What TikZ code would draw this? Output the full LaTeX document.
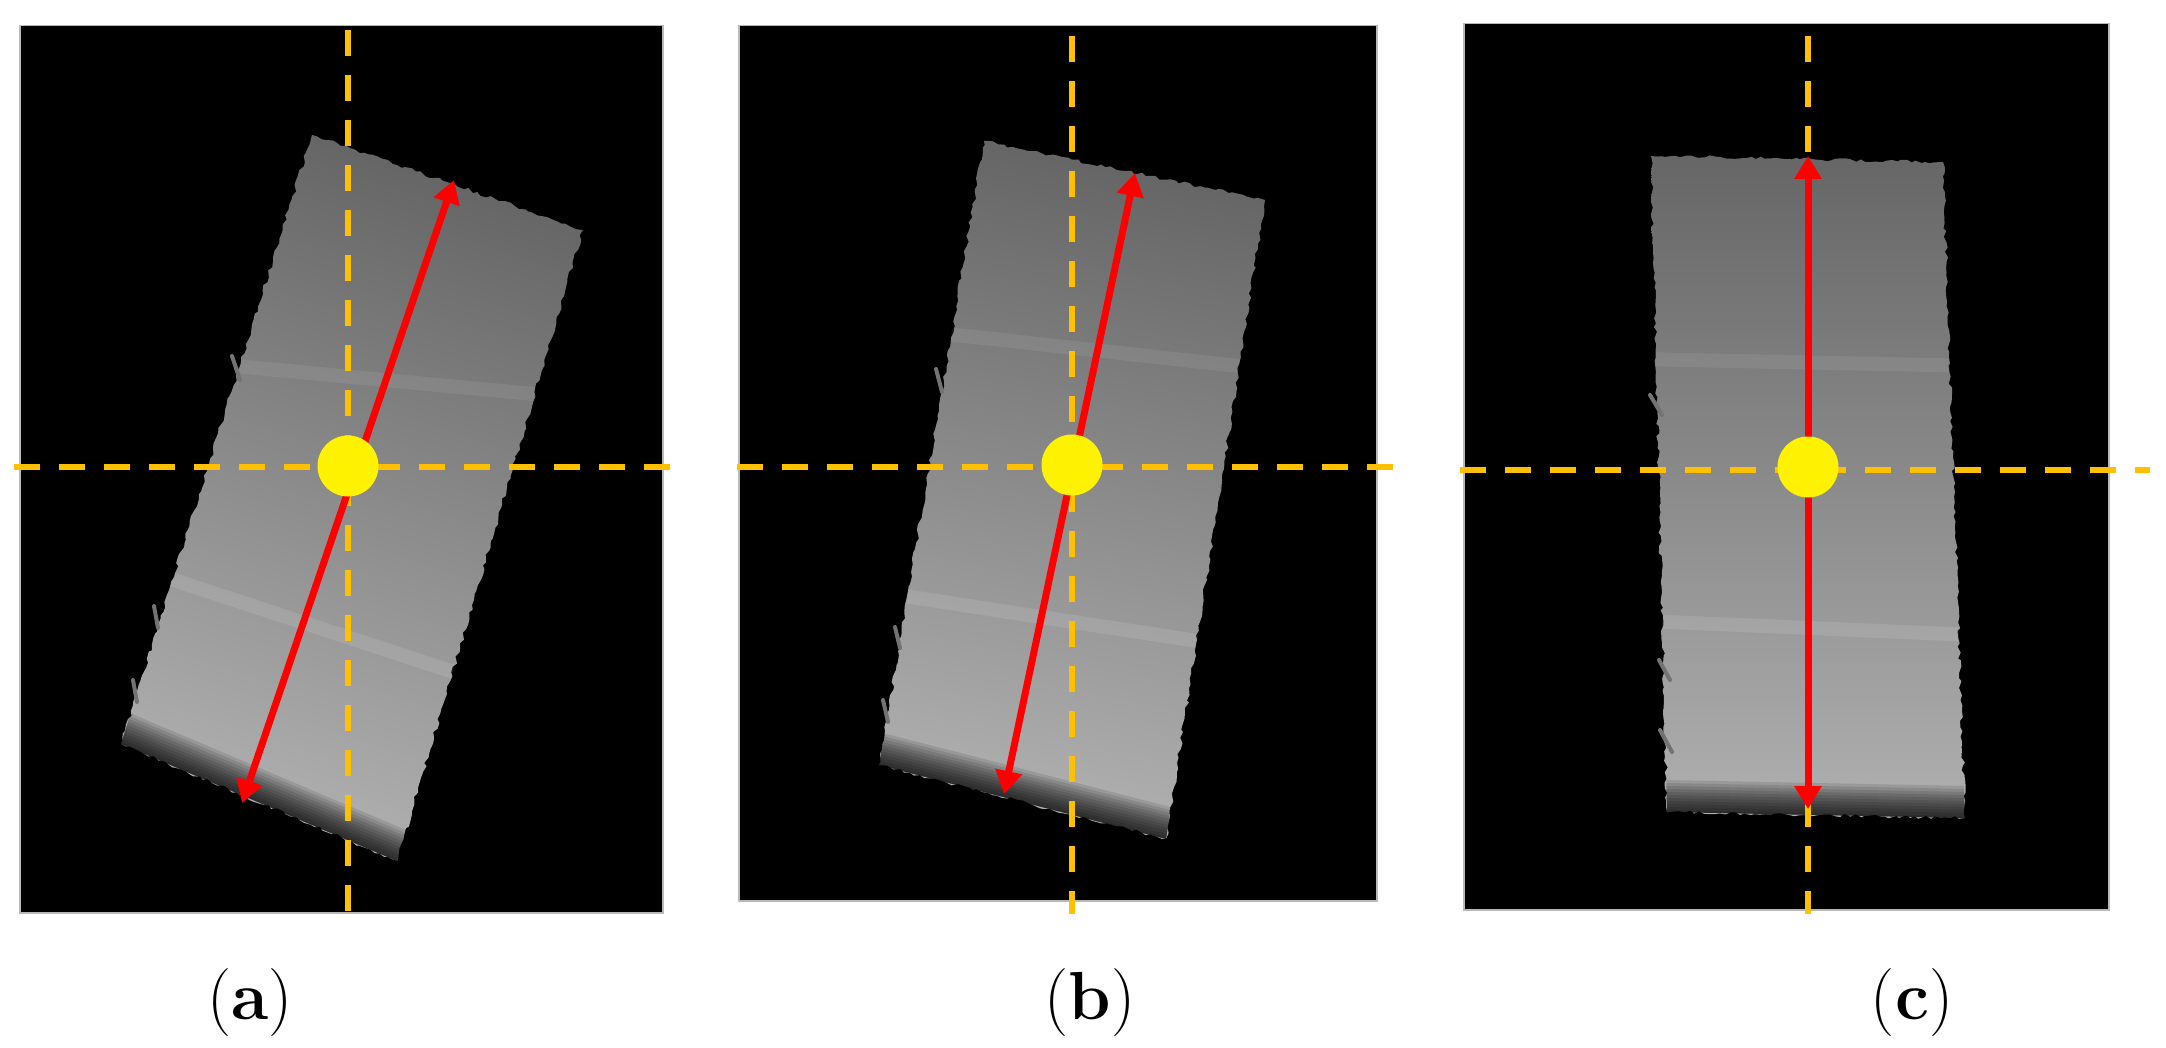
\documentclass[tikz,border=0pt]{standalone}
\usetikzlibrary{arrows.meta,decorations.pathmorphing,calc}
\definecolor{guide}{RGB}{255,192,0}
\definecolor{imgtop}{RGB}{102,102,102}
\definecolor{imgmid}{RGB}{146,146,146}
\definecolor{imgbot}{RGB}{176,176,176}
\begin{document}
\begin{tikzpicture}[x=1pt,y=-1pt,
  frame/.style={fill=black, draw=gray!55, line width=1.5pt},
  guideline/.style={draw=guide, line width=5.5pt, dash pattern=on 26pt off 19pt},
  axisarrow/.style={draw=red, line width=7pt,
     {Triangle[length=23pt,width=26pt]}-{Triangle[length=23pt,width=26pt]}},
  centre/.style={circle, fill=yellow, minimum size=61pt, inner sep=0pt},
  panellabel/.style={font=\fontsize{68}{80}\selectfont, inner sep=0pt},
  rough/.style={decorate, decoration={random steps, segment length=5pt, amplitude=1.8pt}},
  band/.style={line width=14pt, white, opacity=0.10},
  chip/.style={line width=4pt, black!55, line cap=round}
]
\pgfmathsetseed{7}
\useasboundingbox[fill=white] (0,0) rectangle (2166,1048);

% ---------------- panel (a)
\node[frame, draw, minimum width=643pt, minimum height=887pt, anchor=north west, inner sep=0pt] (a-frame) at (19,25) {};
\coordinate (a-tl) at (312,135); \coordinate (a-tr) at (583,230);
\coordinate (a-br) at (397,861); \coordinate (a-bl) at (121,744);
\shade[rough, top color=imgtop, middle color=imgmid, bottom color=imgbot, shading angle=-18]
  (a-tl) -- (a-tr) -- (a-br) -- (a-bl) -- cycle;
\begin{scope}
  \clip (a-tl) -- (a-tr) -- (a-br) -- (a-bl) -- cycle;
  \draw[band] ($(a-bl)!0.27!(a-tl)$) -- ($(a-br)!0.30!(a-tr)$);
  \draw[band, opacity=0.07] ($(a-bl)!0.62!(a-tl)$) -- ($(a-br)!0.74!(a-tr)$);
  \foreach \w in {64,58,...,4}
    \draw[line width=\w pt, black, opacity=0.11] ($(a-bl)!-0.2!(a-br)$) -- ($(a-br)!-0.2!(a-bl)$);
\end{scope}
\draw[chip] (232,356) -- (240,380);
\draw[chip] (154,606) -- (158,628);
\draw[chip] (133,680) -- (137,702);
\coordinate (a-vt) at (348,30);  \coordinate (a-vb) at (348,912);
\coordinate (a-hl) at (14,467);  \coordinate (a-hr) at (672,467);
\draw[guideline] (a-vt) -- (a-vb);
\draw[guideline] (a-hl) -- (a-hr);
\coordinate (a-lo) at (242,803); \coordinate (a-up) at (454,180);
\draw[axisarrow] (a-lo) -- (a-up);
\node[centre] (a-c) at (348,466) {};
\node[panellabel] (a-lab) at (250,1003) {(\textbf{a})};

% ---------------- panel (b)
\node[frame, draw, minimum width=638pt, minimum height=875pt, anchor=north west, inner sep=0pt] (b-frame) at (738,25) {};
\coordinate (b-tl) at (984,141); \coordinate (b-tr) at (1265,200);
\coordinate (b-br) at (1166,839); \coordinate (b-bl) at (879,765);
\shade[rough, top color=imgtop, middle color=imgmid, bottom color=imgbot, shading angle=-11]
  (b-tl) -- (b-tr) -- (b-br) -- (b-bl) -- cycle;
\begin{scope}
  \clip (b-tl) -- (b-tr) -- (b-br) -- (b-bl) -- cycle;
  \draw[band] ($(b-bl)!0.27!(b-tl)$) -- ($(b-br)!0.31!(b-tr)$);
  \draw[band, opacity=0.07] ($(b-bl)!0.69!(b-tl)$) -- ($(b-br)!0.74!(b-tr)$);
  \foreach \w in {64,58,...,4}
    \draw[line width=\w pt, black, opacity=0.11] ($(b-bl)!-0.2!(b-br)$) -- ($(b-br)!-0.2!(b-bl)$);
\end{scope}
\draw[chip] (936,369) -- (942,392);
\draw[chip] (895,627) -- (900,648);
\draw[chip] (883,700) -- (888,722);
\coordinate (b-vt) at (1072,36);  \coordinate (b-vb) at (1072,914);
\coordinate (b-hl) at (737,467);  \coordinate (b-hr) at (1398,467);
\draw[guideline] (b-vt) -- (b-vb);
\draw[guideline] (b-hl) -- (b-hr);
\coordinate (b-lo) at (1004,794); \coordinate (b-up) at (1135,173);
\draw[axisarrow] (b-lo) -- (b-up);
\node[centre] (b-c) at (1072,465) {};
\node[panellabel] (b-lab) at (1090,1003) {(\textbf{b})};

% ---------------- panel (c)
\node[frame, draw, minimum width=645pt, minimum height=886pt, anchor=north west, inner sep=0pt] (c-frame) at (1463,23) {};
\coordinate (c-tl) at (1651,156); \coordinate (c-tr) at (1943,162);
\coordinate (c-br) at (1965,818); \coordinate (c-bl) at (1667,812);
\shade[rough, top color=imgtop, middle color=imgmid, bottom color=imgbot]
  (c-tl) -- (c-tr) -- (c-br) -- (c-bl) -- cycle;
\begin{scope}
  \clip (c-tl) -- (c-tr) -- (c-br) -- (c-bl) -- cycle;
  \draw[band] ($(c-bl)!0.29!(c-tl)$) -- ($(c-br)!0.28!(c-tr)$);
  \draw[band, opacity=0.07] ($(c-bl)!0.69!(c-tl)$) -- ($(c-br)!0.69!(c-tr)$);
  \foreach \w in {64,58,...,4}
    \draw[line width=\w pt, black, opacity=0.11] ($(c-bl)!-0.2!(c-br)$) -- ($(c-br)!-0.2!(c-bl)$);
\end{scope}
\draw[chip] (1650,395) -- (1662,415);
\draw[chip] (1659,660) -- (1670,680);
\draw[chip] (1660,730) -- (1672,752);
\coordinate (c-vt) at (1808,36);  \coordinate (c-vb) at (1808,914);
\coordinate (c-hl) at (1460,470); \coordinate (c-hr) at (2150,470);
\draw[guideline] (c-vt) -- (c-vb);
\draw[guideline] (c-hl) -- (c-hr);
\coordinate (c-lo) at (1808,809); \coordinate (c-up) at (1808,156);
\draw[axisarrow] (c-lo) -- (c-up);
\node[centre] (c-c) at (1808,467) {};
\node[panellabel] (c-lab) at (1912,1003) {(\textbf{c})};
\end{tikzpicture}
\end{document}
